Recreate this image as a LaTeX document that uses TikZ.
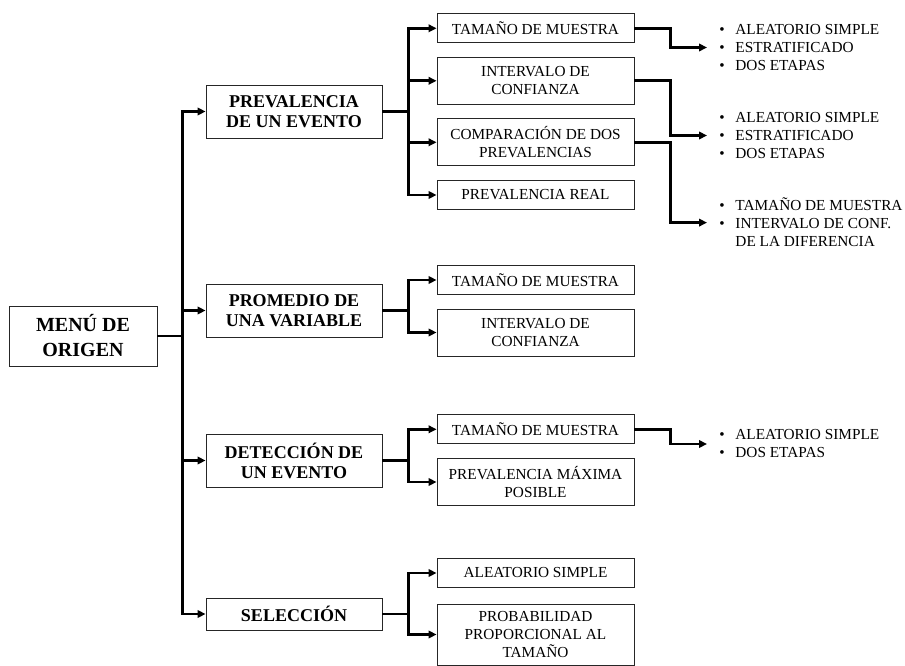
\documentclass[tikz,border=0pt]{standalone}
\usepackage{fontspec}
\setmainfont{Liberation Serif}
\usetikzlibrary{arrows.meta, positioning}

\newcommand{\itembul}{\makebox[16pt][l]{\textbullet}}

\begin{document}
\begin{tikzpicture}[x=1pt, y=-1pt, line width=2.6pt, >={Triangle[length=8pt, width=7.5pt]},
    every node/.style={font=\fontsize{15.3}{18}\selectfont, align=center, line width=0.9pt},
    menubox/.style={draw=black!85, font=\bfseries\fontsize{20}{25}\selectfont, minimum width=148, minimum height=60},
    mainbox/.style={draw=black!85, font=\bfseries\fontsize{18}{20}\selectfont, minimum width=176, minimum height=53},
    subbox/.style={draw=black!85, minimum width=197, minimum height=29},
    itemlist/.style={anchor=west, align=left, inner xsep=12pt, inner ysep=0pt}]
    \useasboundingbox (0,0) rectangle (905,666);

    % Nodes
    \node[menubox] (menu) at (83,336) {MENÚ DE\\ORIGEN};
    \node[mainbox] (prev) at (294,111.5) {PREVALENCIA\\DE UN EVENTO};
    \node[mainbox] (prom) at (294,310.5) {PROMEDIO DE\\UNA VARIABLE};
    \node[mainbox] (detec) at (294,460.5) {DETECCIÓN DE\\UN EVENTO};
    \node[mainbox, minimum height=32] (selec) at (294,614) {SELECCIÓN};

    \node[subbox] (prevTam) at (535.5,28.3) {TAMAÑO DE MUESTRA};
    \node[subbox, minimum height=47] (prevInt) at (535.5,80.8) {INTERVALO DE\\CONFIANZA};
    \node[subbox, minimum height=47] (prevComp) at (535.5,142.3) {COMPARACIÓN DE DOS\\PREVALENCIAS};
    \node[subbox] (prevReal) at (535.5,195) {PREVALENCIA REAL};
    \node[subbox] (promTam) at (535.5,280) {TAMAÑO DE MUESTRA};
    \node[subbox, minimum height=47] (promInt) at (535.5,332.5) {INTERVALO DE\\CONFIANZA};
    \node[subbox] (detTam) at (535.5,429.3) {TAMAÑO DE MUESTRA};
    \node[subbox, minimum height=47] (detMax) at (535.5,482) {PREVALENCIA MÁXIMA\\POSIBLE};
    \node[subbox] (selAl) at (535.5,573) {ALEATORIO SIMPLE};
    \node[subbox, minimum height=61] (selProb) at (535.5,634.5) {PROBABILIDAD\\PROPORCIONAL AL\\TAMAÑO};

    \node[itemlist] (prevTamList) at (707,47.5) {\itembul ALEATORIO SIMPLE\\\itembul ESTRATIFICADO\\\itembul DOS ETAPAS};
    \node[itemlist] (prevIntList) at (707,135.5) {\itembul ALEATORIO SIMPLE\\\itembul ESTRATIFICADO\\\itembul DOS ETAPAS};
    \node[itemlist] (prevCompList) at (707,222.6) {\itembul TAMAÑO DE MUESTRA\\\itembul INTERVALO DE CONF.\\\makebox[16pt]{}DE LA DIFERENCIA};
    \node[itemlist] (detTamList) at (707,444) {\itembul ALEATORIO SIMPLE\\\itembul DOS ETAPAS};

    % Connectors from the menu
    \foreach \target in {prev, prom, detec, selec}
        \draw[->] (menu.east) -- ++(25,0) |- (\target.west);

    % Connectors to the options
    \foreach \src/\target in {prev/prevTam, prev/prevInt, prev/prevComp, prev/prevReal,
                              prom/promTam, prom/promInt, detec/detTam, detec/detMax,
                              selec/selAl, selec/selProb}
        \draw[->] (\src.east) -- ++(26,0) |- (\target.west);

    % Connectors to the lists
    \foreach \src in {prevTam, prevInt, prevComp, detTam}
        \draw[->] (\src.east) -- ++(36,0) |- (\src List.west);
\end{tikzpicture}
\end{document}
